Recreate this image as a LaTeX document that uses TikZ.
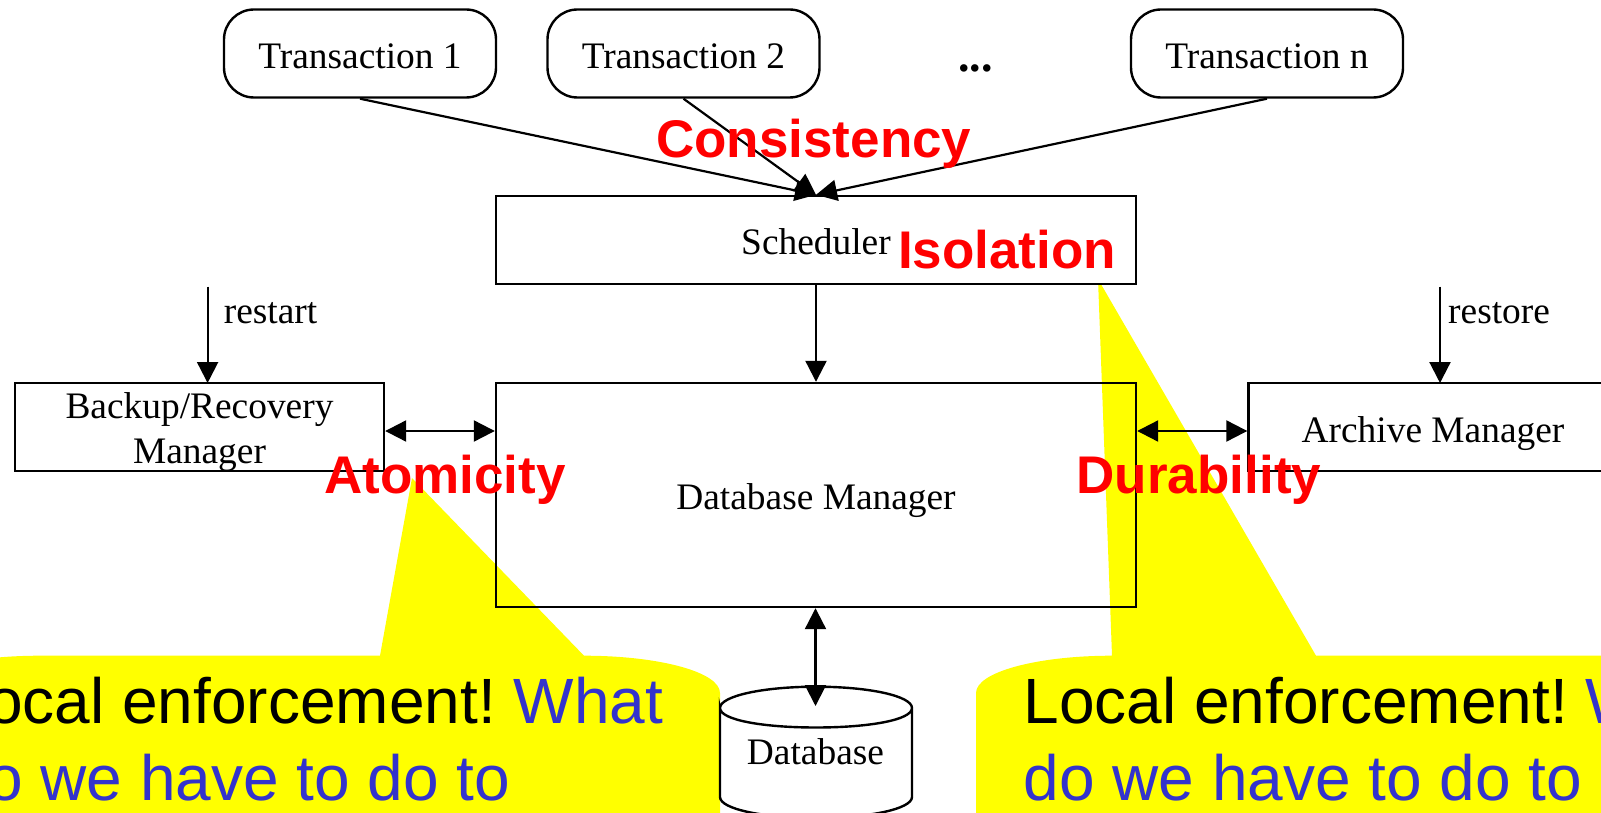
\documentclass[tikz,border=0pt]{standalone}
\usepackage{fontspec}
\setmainfont{Liberation Serif}
\newfontfamily\arialfont{Liberation Sans}
\usetikzlibrary{arrows.meta}
\definecolor{calloutblue}{RGB}{51,51,204}
\definecolor{calloutyellow}{RGB}{255,255,0}
\definecolor{propred}{RGB}{255,0,0}
\tikzset{
  x=1pt,y=-1pt,
  serif/.style={font=\fontsize{37.4}{45}\selectfont},
  box/.style={draw=black,line width=2.4pt,inner sep=0pt,serif},
  txbox/.style={box,rounded corners=30pt,minimum width=272pt,minimum height=88pt,text height=39.4pt,text depth=10pt},
  plain/.style={inner sep=0pt,anchor=base west,serif},
  prop/.style={inner sep=0pt,anchor=base west,text=propred,font=\arialfont\bfseries\fontsize{53}{60}\selectfont},
  say/.style={inner sep=0pt,anchor=base west,font=\arialfont\fontsize{64}{77.3}\selectfont},
  conn/.style={draw=black,line width=2.2pt,-{Triangle[length=21pt,width=21pt]}},
  conn2/.style={draw=black,line width=2.2pt,{Triangle[length=21pt,width=21pt]}-{Triangle[length=21pt,width=21pt]}},
  callout/.style={fill=calloutyellow,draw=none},
}
\newcommand{\sayline}{\parbox[t]{900pt}{\frenchspacing\raggedright\baselineskip=77.3pt Local enforcement! \textcolor{calloutblue}{What}\\\textcolor{calloutblue}{do we have to do to}}}
\begin{document}
\begin{tikzpicture}
\path[use as bounding box] (0,0) rectangle (1601,813);
\clip (0,0) rectangle (1601,813);
\fill[white] (0,0) rectangle (1601,813);
% callouts
\path[callout] (-96,693) .. controls (-96,672) and (-35,655.7) .. (40,655.7) -- (380,655.7) -- (412,478) -- (584,655.7) .. controls (659,655.7) and (720,672) .. (720,693) -- (720,830) -- (-96,830) -- cycle;
\path[callout] (976,693) .. controls (976,672) and (1037,655.7) .. (1112,655.7) -- (1098,279) -- (1316,655.7) -- (1656,655.7) .. controls (1731,655.7) and (1792,672) .. (1792,693) -- (1792,830) -- (976,830) -- cycle;
% boxes
\node[txbox] (t1) at (360,53.5) {Transaction 1};
\node[txbox] (t2) at (683.5,53.5) {Transaction 2};
\node[txbox] (tn) at (1267,53.5) {Transaction n};
\node[inner sep=0pt,anchor=base west,font=\bfseries\fontsize{46}{50}\selectfont] (dots) at (958,72) {...};
\node[box,fill=white,minimum width=640pt,minimum height=88pt,text height=39pt,text depth=10pt] (sched) at (816,240) {Scheduler};
\node[box,minimum width=640pt,minimum height=224pt,text height=39pt,text depth=10pt] (dbm) at (816,495) {Database Manager};
\node[box,minimum width=369pt,minimum height=88pt,text height=80pt,text depth=7pt] (backup) at (199.5,427) {\parbox[b]{300pt}{\centering\baselineskip=45pt Backup/Recovery\\Manager}};
\node[box,minimum width=369pt,minimum height=88pt,text height=40.4pt,text depth=10pt] (archive) at (1433,427) {Archive Manager};
% database
\draw[line width=2.4pt] (720,708) .. controls (720,696) and (763,686.7) .. (816,686.7) .. controls (869,686.7) and (912,696) .. (912,708) .. controls (912,720) and (869,727.5) .. (816,727.5) .. controls (763,727.5) and (720,720) .. (720,708) -- (720,797) .. controls (720,809) and (763,818) .. (816,818) .. controls (869,818) and (912,809) .. (912,797) -- (912,708);
\node[plain,anchor=base] (dbtext) at (815.5,764.5) {Database};
\coordinate (dbtop) at (815.5,706);
% labels
\coordinate (rs) at (207.6,286.7);
\coordinate (rs2) at (1440,286.7);
\coordinate (be) at (207.6,383);
\coordinate (ae) at (1440,383);
\node[plain] (restart) at (223.6,323.5) {restart};
\node[plain] (restore) at (1448,323.5) {restore};
% connectors
\draw[conn] (t1.south) -- (sched.north);
\draw[conn] (t2.south) -- (sched.north);
\draw[conn] (tn.south) -- (sched.north);
\draw[conn] (sched.south) -- (dbm.north);
\draw[conn] (rs) -- (be);
\draw[conn] (rs2) -- (ae);
\draw[conn2] (backup.east) ++(0,4) -- ([yshift=-4pt]backup.east -| dbm.west);
\draw[conn2] (dbm.east |- archive.west) ++(0,4) -- ([yshift=-4pt]archive.west);
\draw[conn2] (dbm.south -| dbtop) -- (dbtop);
% callout texts
\node[say] (say1) at (-48.5,723.2) {\sayline};
\node[say] (say2) at (1023.5,723.2) {\sayline};
% property labels
\node[prop] (cons) at (656,157.7) {Consistency};
\node[prop] (isol) at (898,269) {Isolation};
\node[prop] (atom) at (324,493.7) {Atomicity};
\node[prop] (dura) at (1076.5,493.7) {Durability};
\end{tikzpicture}
\end{document}
